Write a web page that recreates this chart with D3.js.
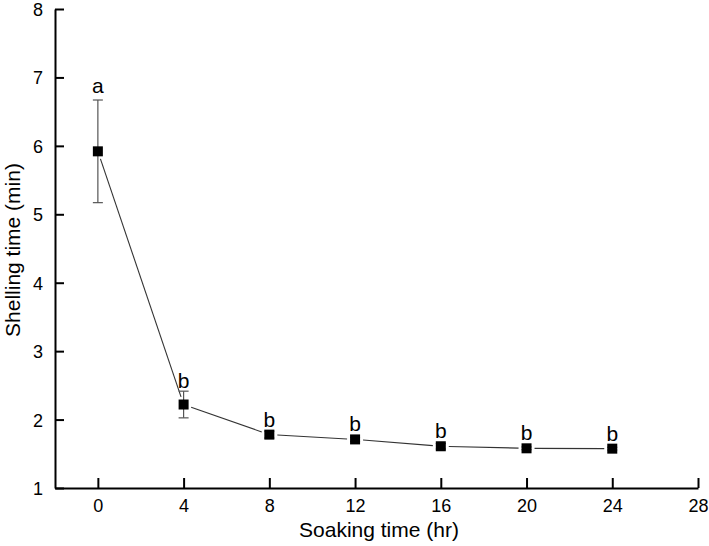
<!DOCTYPE html>
<html><head><meta charset="utf-8">
<script src="https://cdn.jsdelivr.net/npm/d3@7"></script>
<style>body{margin:0;background:#fff}svg{display:block}text{font-family:"Liberation Sans",Arial,sans-serif;fill:#000}</style>
</head><body>
<svg id="c" width="709" height="546"></svg>
<script>
const soakingTime = [0, 4, 8, 12, 16, 20, 24];
const shellingTime = [5.92, 2.22, 1.78, 1.71, 1.61, 1.58, 1.575];
const errorBars = [0.75, 0.195, 0.05, 0.03, 0.04, 0.02, 0.02];
const groupLetters = ["a", "b", "b", "b", "b", "b", "b"];
const xTicks = [0, 4, 8, 12, 16, 20, 24, 28];
const yTicks = [1, 2, 3, 4, 5, 6, 7, 8];

const svg = d3.select("#c");
const x = d3.scaleLinear().domain([-2, 28]).range([55, 698]);
const y = d3.scaleLinear().domain([1, 8]).range([488, 9]);

// axes
const xAxis = svg.append("g").attr("transform", `translate(0,${y(1)})`)
  .call(d3.axisBottom(x).tickValues(xTicks).tickFormat(d3.format("d")).tickSizeInner(-10).tickSizeOuter(0).tickPadding(11));
const yAxis = svg.append("g").attr("transform", `translate(${x(-2)},0)`)
  .call(d3.axisLeft(y).tickValues(yTicks).tickFormat(d3.format("d")).tickSizeInner(-9).tickSizeOuter(0).tickPadding(12));
[xAxis, yAxis].forEach(a => {
  a.attr("font-size", 18).attr("font-family", "Liberation Sans, Arial, sans-serif");
  a.select(".domain").attr("stroke", "#000").attr("stroke-width", 2);
  a.selectAll(".tick line").attr("stroke", "#000").attr("stroke-width", 2);
  a.selectAll(".tick text").attr("fill", "#000");
});
yAxis.selectAll(".tick text").attr("dy", "0.36em");

// connecting line segments with gaps near markers
const pts = soakingTime.map((t, i) => [x(t), y(shellingTime[i])]);
const gap = 8;
for (let i = 0; i < pts.length - 1; i++) {
  const [x1, y1] = pts[i], [x2, y2] = pts[i + 1];
  const dx = x2 - x1, dy = y2 - y1, L = Math.hypot(dx, dy);
  const ux = dx / L, uy = dy / L;
  svg.append("line")
    .attr("x1", x1 + ux * gap).attr("y1", y1 + uy * gap)
    .attr("x2", x2 - ux * gap).attr("y2", y2 - uy * gap)
    .attr("stroke", "#333").attr("stroke-width", 1.1);
}

// error bars
const eb = svg.append("g").attr("stroke", "#555").attr("stroke-width", 1.2);
soakingTime.forEach((t, i) => {
  const cx = x(t), hi = y(shellingTime[i] + errorBars[i]), lo = y(shellingTime[i] - errorBars[i]);
  eb.append("line").attr("x1", cx).attr("x2", cx).attr("y1", hi).attr("y2", lo);
  eb.append("line").attr("x1", cx - 5).attr("x2", cx + 5).attr("y1", hi).attr("y2", hi);
  eb.append("line").attr("x1", cx - 5).attr("x2", cx + 5).attr("y1", lo).attr("y2", lo);
});

// markers
svg.append("g").selectAll("rect").data(soakingTime).join("rect")
  .attr("x", (d) => x(d) - 5).attr("y", (d, i) => y(shellingTime[i]) - 5)
  .attr("width", 10).attr("height", 10).attr("fill", "#000");

// letters
svg.append("g").selectAll("text").data(soakingTime).join("text")
  .attr("x", d => x(d)).attr("text-anchor", "middle").attr("font-size", 21)
  .attr("y", (d, i) => Math.min(y(shellingTime[i] + errorBars[i]), y(shellingTime[i]) - 5) - (i === 0 ? 7 : 3))
  .text((d, i) => groupLetters[i]);

// titles
svg.append("text").attr("x", 379).attr("y", 537).attr("text-anchor", "middle")
  .attr("font-size", 21).text("Soaking time (hr)");
svg.append("text").attr("transform", "translate(20,250) rotate(-90)").attr("text-anchor", "middle")
  .attr("font-size", 21).text("Shelling time (min)");
</script>
</body></html>
